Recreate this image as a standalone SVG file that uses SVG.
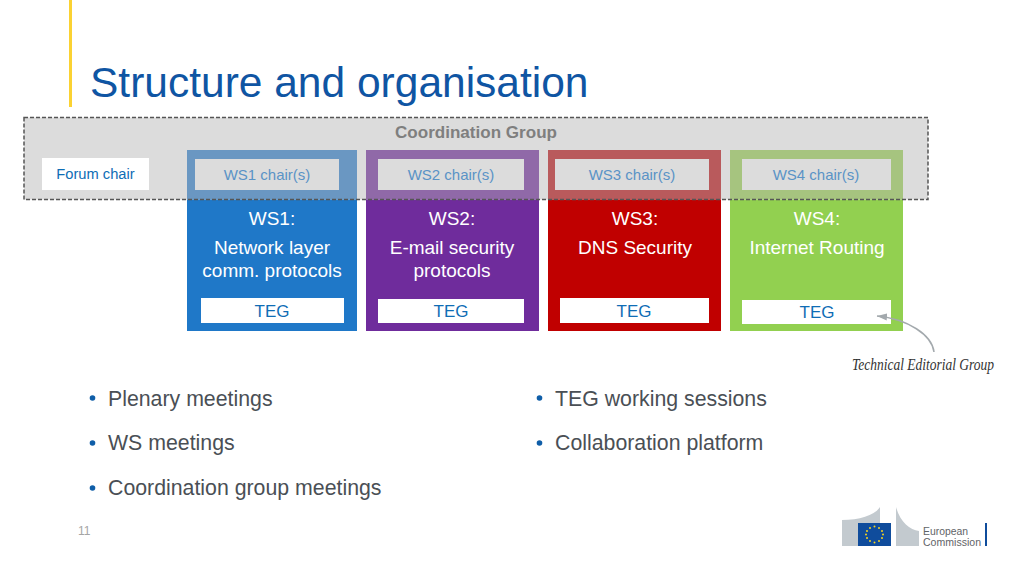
<svg xmlns="http://www.w3.org/2000/svg" width="1024" height="576" viewBox="0 0 1024 576">
<style>
text{font-family:"Liberation Sans",Arial,sans-serif}
.w{fill:#fff;font-size:19px;text-anchor:middle}
.h{fill:#fff;font-size:19px;text-anchor:middle}
.t{fill:#0f6db5;font-size:17px;text-anchor:middle}
.c{fill:#5a93c6;font-size:15px;text-anchor:middle}
.b{fill:#4a4f55;font-size:21.300px}
.dot{fill:#0f5ea8}
.g{fill:#dcdcdc}
.d{fill:#c3cacf}
.n{font-family:"Liberation Serif",serif;font-style:italic;font-size:17px;fill:#333}
</style>
<defs><marker id="ah" markerUnits="userSpaceOnUse" markerWidth="11" markerHeight="8" refX="10" refY="4" orient="auto"><path d="M0 0.500L10 4L0 7.500z" fill="#a3a9ad"/></marker></defs>
<rect width="1024" height="576" fill="#fff"/>
<g id="title">
<rect x="69" y="0" width="3" height="107" fill="#fbd232"/>
<text x="90" y="97" font-size="42.500" fill="#0f55a3">Structure and organisation</text>
</g>
<g id="coordination">
<rect x="24" y="117.500" width="904" height="82" class="g"/>
<text x="476" y="138" font-size="17" font-weight="bold" fill="#7f7f7f" text-anchor="middle" textLength="162" lengthAdjust="spacingAndGlyphs">Coordination Group</text>
</g>
<g id="forum">
<rect x="42" y="158" width="107" height="32" fill="#fff"/>
<text x="95.500" y="179" font-size="14.700" fill="#0f6db5" text-anchor="middle">Forum chair</text>
</g>
<g id="ws1">
<rect x="187" y="150" width="170" height="49.500" fill="#6a97c2"/>
<rect x="187" y="199.500" width="170" height="131.500" fill="#1f78c8"/>
<rect x="195" y="159" width="144" height="31" class="g"/>
<text x="267" y="180" class="c">WS1 chair(s)</text>
<text x="272" y="224.500" class="h">WS1:</text>
<text x="272" y="254" class="w">Network layer</text>
<text x="272" y="277" class="w">comm. protocols</text>
<rect x="201" y="298" width="143" height="25" fill="#fff"/>
<text x="272" y="317" class="t">TEG</text>
</g>
<g id="ws2">
<rect x="366" y="150" width="173" height="49.500" fill="#9069a8"/>
<rect x="366" y="199.500" width="173" height="131.500" fill="#6f2c9c"/>
<rect x="378" y="159" width="146" height="31" class="g"/>
<text x="451" y="180" class="c">WS2 chair(s)</text>
<text x="452" y="224.500" class="h">WS2:</text>
<text x="452" y="254" class="w">E-mail security</text>
<text x="452" y="277" class="w">protocols</text>
<rect x="378" y="299" width="146" height="24" fill="#fff"/>
<text x="451" y="317" class="t">TEG</text>
</g>
<g id="ws3">
<rect x="548" y="150" width="173" height="49.500" fill="#b95a5c"/>
<rect x="548" y="199.500" width="173" height="131.500" fill="#c00000"/>
<rect x="555" y="159" width="154" height="31" class="g"/>
<text x="632" y="180" class="c">WS3 chair(s)</text>
<text x="635" y="224.500" class="h">WS3:</text>
<text x="635" y="254" class="w">DNS Security</text>
<rect x="560" y="298" width="149" height="25" fill="#fff"/>
<text x="634" y="317" class="t">TEG</text>
</g>
<g id="ws4">
<rect x="730" y="150" width="173" height="49.500" fill="#a6c47f"/>
<rect x="730" y="199.500" width="173" height="131.500" fill="#92d050"/>
<rect x="742" y="159" width="149" height="31" class="g"/>
<text x="816" y="180" class="c">WS4 chair(s)</text>
<text x="817" y="224.500" class="h">WS4:</text>
<text x="817" y="254" class="w">Internet Routing</text>
<rect x="742" y="300" width="149" height="24" fill="#fff"/>
<text x="817" y="318" class="t">TEG</text>
</g>
<g id="connectors">
<rect x="24" y="117.500" width="904" height="82" fill="none" stroke="#555" stroke-width="1.500" stroke-dasharray="4 2"/>
<path d="M934 352C932 335 908 319 877 316" fill="none" stroke="#a3a9ad" stroke-width="1.500" marker-end="url(#ah)"/>
</g>
<g id="teg-note">
<text x="852" y="370" class="n" textLength="142" lengthAdjust="spacingAndGlyphs">Technical Editorial Group</text>
</g>
<g id="bullets">
<circle cx="92.500" cy="398" r="2.800" class="dot"/><text x="108" y="406" class="b">Plenary meetings</text>
<circle cx="92.500" cy="443" r="2.800" class="dot"/><text x="108" y="450" class="b">WS meetings</text>
<circle cx="92.500" cy="488" r="2.800" class="dot"/><text x="108" y="495" class="b">Coordination group meetings</text>
<circle cx="539.500" cy="398" r="2.800" class="dot"/><text x="555" y="406" class="b">TEG working sessions</text>
<circle cx="539.500" cy="443" r="2.800" class="dot"/><text x="555" y="450" class="b">Collaboration platform</text>
</g>
<text x="78" y="535" font-size="12" fill="#a5a5a5">11</text>
<g id="logo">
<path d="M842 520C860 520 875 515 880 507V530H858V546H842z" class="d"/>
<path d="M896 507C900 522 910 530 919 531V546H896z" class="d"/>
<rect x="858" y="523" width="33" height="23" fill="#0f4c9c"/>
<g fill="#f4d320">
<circle cx="874.500" cy="526.500" r="1"/><circle cx="879" cy="528" r="1"/><circle cx="882" cy="531" r="1"/><circle cx="883" cy="534.500" r="1"/><circle cx="882" cy="538" r="1"/><circle cx="879" cy="541" r="1"/><circle cx="874.500" cy="542.500" r="1"/><circle cx="870" cy="541" r="1"/><circle cx="867" cy="538" r="1"/><circle cx="866" cy="534.500" r="1"/><circle cx="867" cy="531" r="1"/><circle cx="870" cy="528" r="1"/>
</g>
<text x="923" y="535" font-size="11" fill="#5f6367" textLength="45" lengthAdjust="spacingAndGlyphs">European</text>
<text x="923" y="546" font-size="11" fill="#5f6367" textLength="58" lengthAdjust="spacingAndGlyphs">Commission</text>
<rect x="985" y="523" width="2" height="23" fill="#0f4c9c"/>
</g>
</svg>
